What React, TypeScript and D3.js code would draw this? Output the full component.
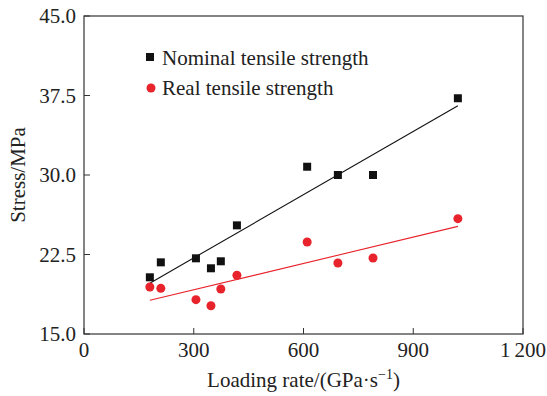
import React, { useEffect } from 'react';
import * as d3 from 'd3';

// loading rate (GPa/s)
const loadingRate = [180, 210, 306, 347, 374, 418, 610, 694, 790, 1022];
const nominalStrength = [20.35, 21.76, 22.14, 21.2, 21.86, 25.25, 30.78, 30.0, 30.0, 37.24];
const realStrength = [19.43, 19.31, 18.24, 17.67, 19.25, 20.54, 23.68, 21.7, 22.17, 25.88];

const xTicks = [0, 300, 600, 900, 1200];
const xTickLabels = ['0', '300', '600', '900', '1\u2009200'];
const yTicks = [15, 22.5, 30, 37.5, 45];
const yTickLabels = ['15.0', '22.5', '30.0', '37.5', '45.0'];
const legendLabels = ['Nominal tensile strength', 'Real tensile strength'];

const W = 547;
const H = 396;
const margin = { top: 16, right: 24, bottom: 62, left: 84 };
const RED = '#e8232b';
const FONTS = ['Liberation Serif', 'Times New Roman', 'DejaVu Serif'];

// simple least squares fit
function fit(xs: number[], ys: number[]) {
  const mx = d3.mean(xs) as number;
  const my = d3.mean(ys) as number;
  let sxy = 0, sxx = 0;
  xs.forEach((x, i) => {
    sxy += (x - mx) * (ys[i] - my);
    sxx += (x - mx) * (x - mx);
  });
  const k = sxy / sxx;
  return (x: number) => my + k * (x - mx);
}

export default function App() {
  useEffect(() => {
    document.body.style.margin = '0';
  }, []);

  const x = d3.scaleLinear().domain([0, 1200]).range([margin.left, W - margin.right]);
  const y = d3.scaleLinear().domain([15, 45]).range([H - margin.bottom, margin.top]);
  const x0 = x.range()[0], x1 = x.range()[1];
  const y0 = y.range()[0], y1 = y.range()[1];

  const xMin = d3.min(loadingRate) as number;
  const xMax = d3.max(loadingRate) as number;
  const fNom = fit(loadingRate, nominalStrength);
  const fReal = fit(loadingRate, realStrength);
  const line = d3.line<number>().x(d => x(d));

  const sq = 8;
  const ff = FONTS.map(f => `'${f}'`).join(', ') + ', serif';

  return (
    <svg width={W} height={H} style={{ display: 'block' }} fontFamily={ff}>
      <rect x={0} y={0} width={W} height={H} fill="#fff" />

      {/* fit lines */}
      <path
        d={line.y(d => y(fNom(d)))([xMin, xMax]) || ''}
        stroke="#111" strokeWidth={1.1} fill="none"
      />
      <path
        d={line.y(d => y(fReal(d)))([xMin, xMax]) || ''}
        stroke={RED} strokeWidth={1.1} fill="none"
      />

      {/* points */}
      {loadingRate.map((r, i) => (
        <rect key={'n' + i} x={x(r) - sq / 2} y={y(nominalStrength[i]) - sq / 2}
          width={sq} height={sq} fill="#111" />
      ))}
      {loadingRate.map((r, i) => (
        <circle key={'r' + i} cx={x(r)} cy={y(realStrength[i])} r={4.5} fill={RED} />
      ))}

      {/* frame */}
      <rect x={x0} y={y1} width={x1 - x0} height={y0 - y1} fill="none" stroke="#333" strokeWidth={1.2} />

      {/* x ticks */}
      {xTicks.map((t, i) => (
        <g key={'xt' + i}>
          <line x1={x(t)} x2={x(t)} y1={y0} y2={y0 - 6} stroke="#333" strokeWidth={1} />
          <text x={x(t)} y={y0 + 23} textAnchor="middle" fontSize={21} fill="#222">{xTickLabels[i]}</text>
        </g>
      ))}
      {/* y ticks */}
      {yTicks.map((t, i) => (
        <g key={'yt' + i}>
          <line x1={x0} x2={x0 + 6} y1={y(t)} y2={y(t)} stroke="#333" strokeWidth={1} />
          <text x={x0 - 8} y={y(t)} dy="0.35em" textAnchor="end" fontSize={21} fill="#222">{yTickLabels[i]}</text>
        </g>
      ))}

      {/* axis titles */}
      <text x={(x0 + x1) / 2} y={387} textAnchor="middle" fontSize={21} fill="#222">
        Loading rate/(GPa·s<tspan fontSize={14} dy={-8}>−1</tspan><tspan dy={8}>)</tspan>
      </text>
      <text transform={`translate(25,${(y0 + y1) / 2}) rotate(-90)`} textAnchor="middle" fontSize={21} fill="#222">
        Stress/MPa
      </text>

      {/* legend */}
      <rect x={150 - sq / 2} y={57 - sq / 2} width={sq} height={sq} fill="#111" />
      <text x={162} y={65} fontSize={21} fill="#222">{legendLabels[0]}</text>
      <circle cx={151} cy={88} r={4.5} fill={RED} />
      <text x={162} y={95} fontSize={21} fill="#222">{legendLabels[1]}</text>
    </svg>
  );
}
